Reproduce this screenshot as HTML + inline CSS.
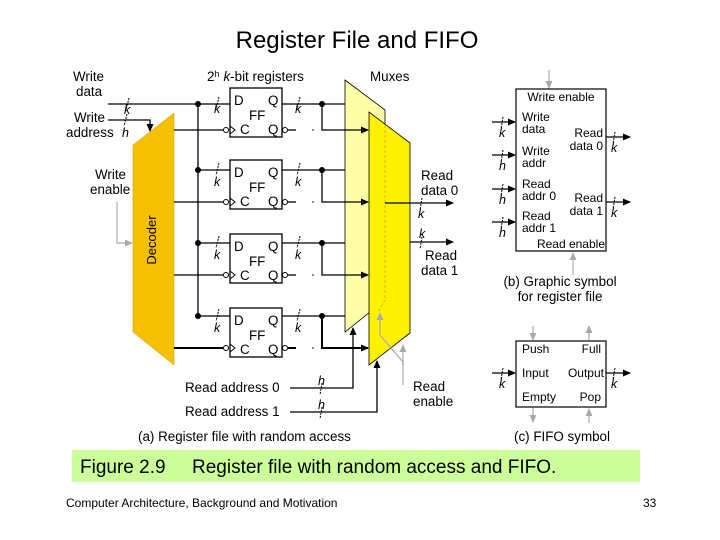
<!DOCTYPE html>
<html><head><meta charset="utf-8"><style>
html,body{margin:0;padding:0;background:#fff}
svg{display:block}
text{font-family:"Liberation Sans",Arial,sans-serif;fill:#000}
.s{font-size:13.4px}
.b{font-size:12px}
.i{font-style:italic;font-size:12.5px}
</style></head><body>
<svg width="720" height="540" viewBox="0 0 720 540" xmlns="http://www.w3.org/2000/svg">
<defs>
<marker id="a" markerWidth="8" markerHeight="8" refX="7" refY="4" orient="auto" markerUnits="userSpaceOnUse"><path d="M0,0.5 L8,4 L0,7.5z" fill="#000"/></marker>
<marker id="g" markerWidth="8" markerHeight="8" refX="7" refY="4" orient="auto" markerUnits="userSpaceOnUse"><path d="M0,0.5 L8,4 L0,7.5z" fill="#aaa"/></marker>
</defs>
<text x="357" y="48" font-size="24" text-anchor="middle">Register File and FIFO</text>

<text class="s" x="73" y="81">Write</text><text class="s" x="76" y="96">data</text>
<text class="s" x="74" y="122">Write</text><text class="s" x="66" y="137">address</text>
<text class="s" x="95" y="179">Write</text><text class="s" x="90" y="194">enable</text>
<text class="s" x="207" y="81">2<tspan font-size="9" dy="-4">h</tspan><tspan dy="4" dx="4" font-style="italic">k</tspan>-bit registers</text>
<text class="s" x="370" y="81">Muxes</text>

<polygon points="133,145 174,113 174,365 133,332" fill="#F5C000" stroke="#C89400" stroke-width="0.5"/>
<text x="156" y="240" font-size="13" transform="rotate(-90 156 240)" text-anchor="middle">Decoder</text>

<g stroke="#000" stroke-width="1.3" fill="none">
<line x1="108" y1="104" x2="230" y2="104"/>
<line x1="198" y1="104" x2="198" y2="316"/>
<polyline points="108,120 150,120 150,131" marker-end="url(#a)"/>
<line x1="198" y1="170" x2="230" y2="170"/>
<line x1="198" y1="243" x2="230" y2="243"/>
<line x1="198" y1="316" x2="230" y2="316"/>
<line x1="174" y1="130" x2="223" y2="130"/>
<line x1="174" y1="202" x2="223" y2="202"/>
<line x1="174" y1="275" x2="223" y2="275"/>
<line x1="174" y1="348" x2="223" y2="348" stroke-width="2"/>
</g>
<g stroke="#000" stroke-width="1" stroke-dasharray="2,1">
<line x1="129" y1="98" x2="126" y2="110"/><line x1="127" y1="114" x2="124" y2="126"/>
<line x1="219" y1="97" x2="216" y2="109"/><line x1="219" y1="163" x2="216" y2="175"/>
<line x1="219" y1="236" x2="216" y2="248"/><line x1="219" y1="309" x2="216" y2="321"/>
<line x1="300" y1="97" x2="297" y2="109"/><line x1="300" y1="163" x2="297" y2="175"/>
<line x1="300" y1="236" x2="297" y2="248"/><line x1="300" y1="309" x2="297" y2="321"/>
</g>
<text class="i" x="124" y="114">k</text><text class="i" x="122" y="137">h</text>
<text class="i" x="214" y="113">k</text><text class="i" x="214" y="186">k</text><text class="i" x="214" y="259">k</text><text class="i" x="214" y="332">k</text>
<text class="i" x="295" y="113">k</text><text class="i" x="295" y="186">k</text><text class="i" x="295" y="259">k</text><text class="i" x="295" y="332">k</text>
<g fill="#000"><circle cx="198" cy="104" r="3"/><circle cx="198" cy="170" r="3"/><circle cx="198" cy="243" r="3"/><circle cx="198" cy="316" r="3"/></g>

<g id="ffs">
<g>
<rect x="230" y="88" width="52" height="49" fill="#fff" stroke="#000" stroke-width="1.3"/>
<text class="s" x="234" y="105">D</text><text class="s" x="268" y="105">Q</text>
<text class="s" x="249" y="120">FF</text><text class="s" x="240" y="134">C</text><text class="s" x="268" y="134">Q</text>
</g>
</g>
<use href="#ffs" y="72"/><use href="#ffs" y="146"/><use href="#ffs" y="220"/>
<g stroke="#000" stroke-width="1" fill="#fff">
<circle cx="226" cy="130" r="2.5"/><circle cx="226" cy="202" r="2.5"/><circle cx="226" cy="275" r="2.5"/><circle cx="226" cy="348" r="2.5"/>
<circle cx="285" cy="130" r="2.5"/><circle cx="285" cy="202" r="2.5"/><circle cx="285" cy="275" r="2.5"/><circle cx="285" cy="348" r="2.5"/>
<polyline points="230,126 235,130 230,134" fill="none"/><polyline points="230,198 235,202 230,206" fill="none"/><polyline points="230,271 235,275 230,279" fill="none"/><polyline points="230,344 235,348 230,352" fill="none"/>
</g>
<g stroke="#000" stroke-width="1.3">
<line x1="288" y1="130" x2="296" y2="130"/><line x1="288" y1="202" x2="296" y2="202"/><line x1="288" y1="275" x2="296" y2="275"/><line x1="288" y1="348" x2="296" y2="348" stroke-width="2"/>
</g>
<g fill="#000"><circle cx="313" cy="130" r="0.8"/><circle cx="313" cy="202" r="0.8"/><circle cx="313" cy="275" r="0.8"/><circle cx="313" cy="348" r="0.8"/></g>

<polygon points="345,80 385,110 385,300 345,332" fill="#FFFFA8" stroke="#000" stroke-width="0.8"/>
<polygon points="369,112 410,143 410,333 369,365" fill="#FFF200" stroke="#000" stroke-width="0.8"/>
<polyline points="385,125 385,300 378,312" fill="none" stroke="#C8A800" stroke-width="0.8" stroke-dasharray="3,2"/>

<g stroke="#000" stroke-width="1.3" fill="none">
<line x1="282" y1="104" x2="345" y2="104"/><polyline points="322,104 322,130 368,130" marker-end="url(#a)"/>
<line x1="282" y1="170" x2="345" y2="170"/><polyline points="322,170 322,202 368,202" marker-end="url(#a)"/>
<line x1="282" y1="243" x2="345" y2="243"/><polyline points="322,243 322,275 368,275" marker-end="url(#a)"/>
<line x1="282" y1="316" x2="345" y2="316"/><polyline points="322,316 322,348 368,348" stroke-width="2" marker-end="url(#a)"/>
<line x1="385" y1="203" x2="453" y2="203" marker-end="url(#a)"/>
<line x1="410" y1="242" x2="453" y2="242" marker-end="url(#a)"/>
<polyline points="290,388 353,388 353,328" marker-end="url(#a)"/>
<polyline points="290,412 377,412 377,361" marker-end="url(#a)"/>
</g>
<g fill="#000"><circle cx="322" cy="104" r="3"/><circle cx="322" cy="170" r="3"/><circle cx="322" cy="243" r="3"/><circle cx="322" cy="316" r="3"/></g>
<g stroke="#000" stroke-width="1" stroke-dasharray="2,1">
<line x1="422" y1="198" x2="420" y2="210"/><line x1="422" y1="237" x2="420" y2="249"/>
<line x1="322" y1="383" x2="320" y2="395"/><line x1="322" y1="407" x2="320" y2="419"/>
</g>
<text class="s" x="421" y="180">Read</text><text class="s" x="421" y="195">data 0</text>
<text class="i" x="418" y="218">k</text><text class="i" x="419" y="238">k</text>
<text class="s" x="425" y="260">Read</text><text class="s" x="421" y="275">data 1</text>
<text class="s" x="185" y="392">Read address 0</text><text class="s" x="185" y="416">Read address 1</text>
<text class="i" x="318" y="385">h</text><text class="i" x="318" y="409">h</text>
<text class="s" x="413" y="391">Read</text><text class="s" x="413" y="406">enable</text>
<g stroke="#aaa" stroke-width="1.2" fill="none">
<polyline points="117,202 117,243 132,243" marker-end="url(#g)"/>
<polyline points="403,385 403,362 380,335 380,313" marker-end="url(#g)"/>
<line x1="403" y1="365" x2="403" y2="345" marker-end="url(#g)"/>
<line x1="549" y1="70" x2="549" y2="88" marker-end="url(#g)"/>
<line x1="573" y1="275" x2="573" y2="253" marker-end="url(#g)"/>
<line x1="533" y1="326" x2="533" y2="340" marker-end="url(#g)"/>
<line x1="589" y1="341" x2="589" y2="326" marker-end="url(#g)"/>
<line x1="533" y1="408" x2="533" y2="422" marker-end="url(#g)"/>
<line x1="589" y1="423" x2="589" y2="409" marker-end="url(#g)"/>
</g>
<text class="s" x="138" y="441">(a) Register file with random access</text>

<rect x="516" y="89" width="90" height="162" fill="#fff" stroke="#000" stroke-width="1.2"/>
<g stroke="#000" stroke-width="1.3" fill="none">
<line x1="492" y1="122" x2="515" y2="122" marker-end="url(#a)"/>
<line x1="492" y1="155" x2="515" y2="155" marker-end="url(#a)"/>
<line x1="492" y1="189" x2="515" y2="189" marker-end="url(#a)"/>
<line x1="492" y1="222" x2="515" y2="222" marker-end="url(#a)"/>
<line x1="606" y1="137" x2="630" y2="137" marker-end="url(#a)"/>
<line x1="606" y1="202" x2="630" y2="202" marker-end="url(#a)"/>
<line x1="492" y1="373" x2="515" y2="373" marker-end="url(#a)"/>
<line x1="606" y1="373" x2="630" y2="373" marker-end="url(#a)"/>
</g>
<g stroke="#000" stroke-width="1" stroke-dasharray="2,1">
<line x1="503" y1="117" x2="501" y2="129"/><line x1="503" y1="150" x2="501" y2="162"/><line x1="503" y1="184" x2="501" y2="196"/><line x1="503" y1="217" x2="501" y2="229"/>
<line x1="615" y1="132" x2="613" y2="144"/><line x1="615" y1="197" x2="613" y2="209"/>
<line x1="503" y1="368" x2="501" y2="380"/><line x1="615" y1="368" x2="613" y2="380"/>
</g>
<text class="i" x="499" y="137">k</text><text class="i" x="499" y="170">h</text><text class="i" x="499" y="204">h</text><text class="i" x="499" y="237">h</text>
<text class="i" x="611" y="152">k</text><text class="i" x="611" y="217">k</text>
<text class="i" x="499" y="388">k</text><text class="i" x="611" y="388">k</text>
<text class="b" x="561" y="101" text-anchor="middle">Write enable</text>
<text class="b" x="522" y="121">Write</text><text class="b" x="522" y="133">data</text>
<text class="b" x="522" y="155">Write</text><text class="b" x="522" y="167">addr</text>
<text class="b" x="522" y="188">Read</text><text class="b" x="522" y="200">addr 0</text>
<text class="b" x="522" y="220">Read</text><text class="b" x="522" y="232">addr 1</text>
<text class="b" x="603" y="137" text-anchor="end">Read</text><text class="b" x="603" y="150" text-anchor="end">data 0</text>
<text class="b" x="603" y="202" text-anchor="end">Read</text><text class="b" x="603" y="215" text-anchor="end">data 1</text>
<text class="b" x="605" y="248" text-anchor="end">Read enable</text>
<text class="s" x="560" y="286" text-anchor="middle">(b) Graphic symbol</text>
<text class="s" x="560" y="301" text-anchor="middle">for register file</text>

<rect x="516" y="341" width="90" height="66" fill="#fff" stroke="#000" stroke-width="1.2"/>
<text class="b" x="522" y="353">Push</text><text class="b" x="601" y="353" text-anchor="end">Full</text>
<text class="b" x="522" y="377">Input</text><text class="b" x="604" y="377" text-anchor="end">Output</text>
<text class="b" x="522" y="401">Empty</text><text class="b" x="601" y="401" text-anchor="end">Pop</text>
<text class="s" x="514" y="441">(c) FIFO symbol</text>

<rect x="72" y="450" width="568" height="32" fill="#CCFF99"/>
<text x="80" y="473" font-size="19">Figure 2.9</text>
<text x="192" y="473" font-size="19">Register file with random access and FIFO.</text>
<text x="66" y="507" font-size="12">Computer Architecture, Background and Motivation</text>
<text x="643" y="507" font-size="12">33</text>
</svg>
</body></html>
